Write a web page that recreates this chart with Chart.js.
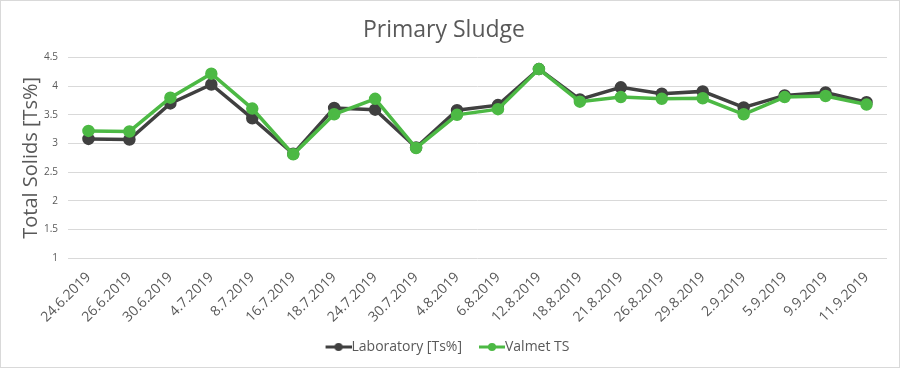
<!DOCTYPE html>
<html><head><meta charset="utf-8">
<script src="https://cdn.jsdelivr.net/npm/chart.js@4"></script>
<style>
html,body{margin:0;padding:0;background:#fff;}
#wrap{width:900px;height:368px;box-sizing:border-box;border:1px solid #d9d9d9;}
canvas{display:block;}
</style></head>
<body><div id="wrap"><canvas id="c" width="898" height="366"></canvas></div>
<script>
const categories = ["24.6.2019","26.6.2019","30.6.2019","4.7.2019","8.7.2019","16.7.2019","18.7.2019","24.7.2019","30.7.2019","4.8.2019","6.8.2019","12.8.2019","18.8.2019","21.8.2019","26.8.2019","29.8.2019","2.9.2019","5.9.2019","9.9.2019","11.9.2019"];
const laboratory = [3.08,3.07,3.70,4.03,3.44,2.82,3.62,3.59,2.93,3.58,3.67,4.30,3.77,3.98,3.87,3.91,3.63,3.84,3.89,3.72];
const valmet = [3.22,3.21,3.80,4.22,3.61,2.81,3.51,3.78,2.92,3.50,3.60,4.30,3.73,3.81,3.78,3.79,3.51,3.81,3.83,3.68];
const yTicks = [1,1.5,2,2.5,3,3.5,4,4.5];

const FONT = "'Open Sans', 'Noto Sans', sans-serif";
const TXT = '#595959';
const DARK = '#404040';
const GREEN = '#4cb944';

// legend marker: visible line+dot in the right 26px of a 40px canvas
function legendIcon(color){
  const c = document.createElement('canvas');
  c.width = 40; c.height = 10;
  const g = c.getContext('2d');
  g.strokeStyle = color; g.lineWidth = 3;
  g.beginPath(); g.moveTo(14,5); g.lineTo(40,5); g.stroke();
  g.fillStyle = color; g.beginPath(); g.arc(27,5,4,0,Math.PI*2); g.fill();
  return c;
}

new Chart(document.getElementById('c'), {
  type: 'line',
  data: {
    labels: categories,
    datasets: [
      {label:'Laboratory [Ts%]', data: laboratory, borderColor: DARK, backgroundColor: DARK,
       borderWidth: 3.5, pointRadius: 4.5, pointHoverRadius: 4.5, tension: 0, order: 2},
      {label:'Valmet TS', data: valmet, borderColor: GREEN, backgroundColor: GREEN,
       borderWidth: 3.5, pointRadius: 4.5, pointHoverRadius: 4.5, tension: 0, order: 1}
    ]
  },
  options: {
    responsive: false,
    animation: false,
    devicePixelRatio: 1,
    layout: {padding: {left: 0, right: 12, top: 0, bottom: 3}},
    plugins: {
      title: {display: true, text: 'Primary Sludge', color: TXT,
        font: {family: FONT, size: 23, weight: 'normal'}, padding: {top: 16, bottom: 13}},
      legend: {position: 'bottom',
        labels: {color: TXT, font: {family: FONT, size: 14}, usePointStyle: true,
          boxWidth: 26, boxHeight: 10, pointStyleWidth: 26, padding: 10,
          sort: (a,b) => a.datasetIndex - b.datasetIndex,
          generateLabels: (chart) => chart.data.datasets.map((d,i) => ({
            text: d.label, fillStyle: d.borderColor, strokeStyle: d.borderColor,
            lineWidth: 0, pointStyle: legendIcon(d.borderColor), datasetIndex: i, fontColor: TXT
          }))
        }},
      tooltip: {enabled: false}
    },
    scales: {
      x: {
        offset: true,
        grid: {display: false},
        border: {display: false},
        afterFit: (s) => { s.height = 72; },
        ticks: {color: TXT, font: {family: FONT, size: 14}, minRotation: 45, maxRotation: 45, autoSkip: false, padding: 3}
      },
      y: {
        min: 1, max: 4.5,
        afterBuildTicks: (s) => { s.ticks = yTicks.map(v => ({value: v})); },
        afterFit: (s) => { s.width = 67; },
        grid: {color: '#d9d9d9', lineWidth: 1, drawTicks: false},
        border: {display: false},
        ticks: {color: TXT, font: {family: FONT, size: 10}, padding: 10, callback: (v) => String(v)},
        title: {display: true, text: 'Total Solids [Ts%]', color: TXT,
          font: {family: FONT, size: 20}, padding: {top: 18, bottom: 0}}
      }
    }
  }
});
</script></body></html>
